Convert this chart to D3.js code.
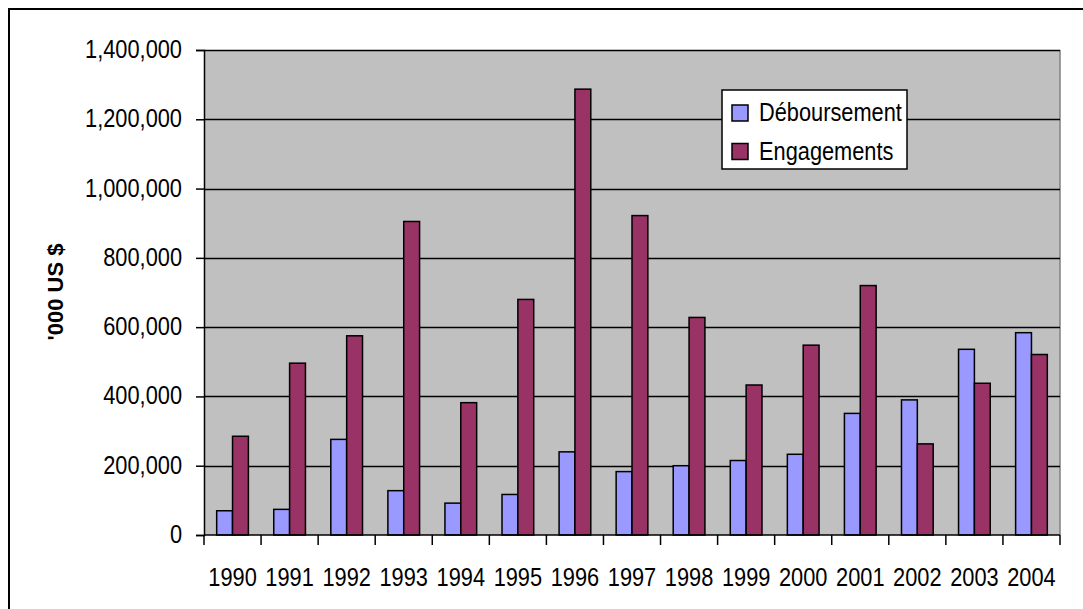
<!DOCTYPE html>
<html>
<head>
<meta charset="utf-8">
<script src="https://cdn.jsdelivr.net/npm/d3@7"></script>
<style>
  html, body { margin: 0; padding: 0; background: #fff; overflow: hidden; }
  svg { display: block; }
  text { font-family: "Liberation Sans", Arial, sans-serif; fill: #000; }
</style>
</head>
<body>
<svg id="chart" width="1083" height="609"></svg>
<script>
// Annual values, in thousands of US dollars
const years = ["1990","1991","1992","1993","1994","1995","1996","1997","1998","1999","2000","2001","2002","2003","2004"];
const seriesNames = ["Déboursement", "Engagements"];
const debourse = [70000, 74000, 276000, 128000, 92000, 117000, 240000, 183000, 200000, 215000, 233000, 351000, 390000, 536000, 584000];
const engagements = [285000, 496000, 575000, 905000, 382000, 680000, 1287000, 922000, 628000, 433000, 548000, 720000, 263000, 438000, 521000];
const yTicks = [0, 200000, 400000, 600000, 800000, 1000000, 1200000, 1400000];
const yTitle = "'000 US $";

const colors = { "Déboursement": "#9999FF", "Engagements": "#993366" };
const values = { "Déboursement": debourse, "Engagements": engagements };

const svg = d3.select("#chart");
const plot = { left: 204, right: 1060, top: 50, bottom: 535 };
const stretch = 1.2;          // text is drawn slightly taller than wide
const fontSize = 21.8;

// Outer frame
svg.append("rect")
  .attr("x", 9).attr("y", 9).attr("width", 1200).attr("height", 800)
  .attr("fill", "#fff").attr("stroke", "#000").attr("stroke-width", 2);

const x0 = d3.scaleBand().domain(years).range([plot.left, plot.right]).padding(0);
const x1 = d3.scaleBand().domain(seriesNames).range([0, x0.bandwidth()])
  .paddingInner(0).paddingOuter(0.8);
const y = d3.scaleLinear().domain([0, 1400000]).range([plot.bottom, plot.top]);

// Plot background
svg.append("rect")
  .attr("x", plot.left).attr("y", plot.top)
  .attr("width", plot.right - plot.left).attr("height", plot.bottom - plot.top)
  .attr("fill", "#C0C0C0");
svg.append("line")
  .attr("x1", plot.right).attr("x2", plot.right)
  .attr("y1", plot.top).attr("y2", plot.bottom)
  .attr("stroke", "#808080").attr("stroke-width", 1.5);

// Horizontal gridlines
svg.append("g").selectAll("line").data(yTicks.filter(d => d > 0)).join("line")
  .attr("x1", plot.left).attr("x2", plot.right)
  .attr("y1", d => Math.round(y(d)) + 0.5).attr("y2", d => Math.round(y(d)) + 0.5)
  .attr("stroke", "#000").attr("stroke-width", 1.5);

// Bars
const groups = svg.append("g").selectAll("g").data(years).join("g")
  .attr("transform", d => `translate(${x0(d)},0)`);
groups.selectAll("rect")
  .data((yr, i) => seriesNames.map(s => ({ s, v: values[s][i] })))
  .join("rect")
  .attr("x", d => x1(d.s))
  .attr("y", d => y(d.v))
  .attr("width", x1.bandwidth())
  .attr("height", d => y(0) - y(d.v))
  .attr("fill", d => colors[d.s])
  .attr("stroke", "#000").attr("stroke-width", 1.5);

// Y axis
const yAxis = svg.append("g").attr("transform", `translate(${plot.left},0)`)
  .call(d3.axisLeft(y).tickValues(yTicks).tickSize(8).tickFormat(d3.format(",")));
yAxis.select(".domain").attr("stroke", "#000").attr("stroke-width", 1.5);
yAxis.selectAll(".tick line").attr("stroke", "#000").attr("stroke-width", 1.5);
yAxis.selectAll(".tick text")
  .attr("x", -22).attr("dy", null)
  .attr("font-size", fontSize)
  .attr("font-family", "Liberation Sans, Arial, sans-serif")
  .attr("transform", `scale(1,${stretch})`)
  .attr("y", 7.5 / stretch);

// X axis, ticks at category boundaries
const xAxis = svg.append("g").attr("transform", `translate(0,${plot.bottom})`);
xAxis.append("line")
  .attr("x1", plot.left).attr("x2", plot.right)
  .attr("stroke", "#000").attr("stroke-width", 1.5);
const bounds = years.map(d => x0(d)).concat([plot.right]);
xAxis.selectAll("line.tk").data(bounds).join("line").attr("class", "tk")
  .attr("x1", d => d).attr("x2", d => d).attr("y1", 0).attr("y2", 10)
  .attr("stroke", "#000").attr("stroke-width", 1.5);
xAxis.selectAll("text").data(years).join("text")
  .attr("text-anchor", "middle")
  .attr("font-size", fontSize)
  .attr("transform", d => `translate(${x0(d) + x0.bandwidth() / 2},51) scale(1,${stretch})`)
  .text(d => d);

// Y axis title
svg.append("text")
  .attr("transform", "translate(63,292) rotate(-90)")
  .attr("text-anchor", "middle")
  .attr("font-size", 22)
  .attr("font-weight", "bold")
  .text(yTitle);

// Legend
const legend = svg.append("g").attr("transform", "translate(722,90)");
legend.append("rect")
  .attr("width", 185).attr("height", 79)
  .attr("fill", "#fff").attr("stroke", "#000").attr("stroke-width", 1.5);
const items = legend.selectAll("g").data(seriesNames).join("g")
  .attr("transform", (d, i) => `translate(0,${15 + i * 38.5})`);
items.append("rect")
  .attr("x", 10).attr("y", 0).attr("width", 16).attr("height", 16)
  .attr("fill", d => colors[d]).attr("stroke", "#000").attr("stroke-width", 1.5);
items.append("text")
  .attr("font-size", fontSize)
  .attr("transform", `translate(37,16) scale(1,${stretch})`)
  .text(d => d);
</script>
</body>
</html>
